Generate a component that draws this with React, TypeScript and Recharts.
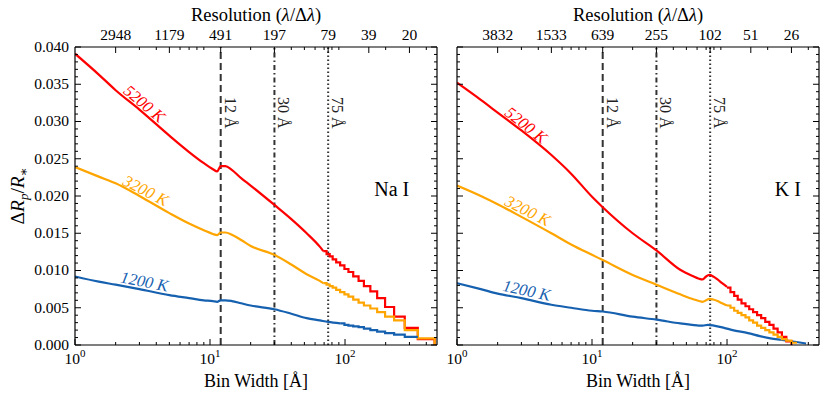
import React from "react";
import {
  ComposedChart,
  Line,
  XAxis,
  YAxis,
  ReferenceLine,
  ReferenceDot,
} from "recharts";

type Pt = [number, number];

const FONT = "Liberation Serif, DejaVu Serif, serif";
const INK = "#000";
const RED = "#ff0000";
const ORANGE = "#ffa500";
const BLUE = "#1660b0";

// top axis: bin widths (Å) that carry the resolution labels
const resolutionBins = [2, 5, 12, 30, 75, 150, 300];
const naResolution = ["2948", "1179", "491", "197", "79", "39", "20"];
const kResolution = ["3832", "1533", "639", "255", "102", "51", "26"];

// bottom axis
const decades = [1, 10, 100];
const logMinors = [2, 3, 4, 5, 6, 7, 8, 9, 20, 30, 40, 50, 60, 70, 80, 90, 200, 300, 400];

// y axis
const radiusMajors = [0, 0.005, 0.01, 0.015, 0.02, 0.025, 0.03, 0.035, 0.04];

// vertical bin-width markers
const markerBins = [12, 30, 75];
const markerText = ["12 Å", "30 Å", "75 Å"];

// ---- Na I ----
const na5200: Pt[] = [
  [1, 0.0391], [1.5, 0.0363], [2, 0.0342], [3, 0.0316], [5, 0.0281], [7, 0.0259],
  [9, 0.0244], [10.5, 0.0236], [11.3, 0.0233], [12, 0.024], [13, 0.024],
  [14.5, 0.0235], [17, 0.0224], [20, 0.0214], [30, 0.0188], [40, 0.0169],
  [52, 0.015], [65, 0.0132], [69, 0.0126],
];
const na5200Steps: Pt[] = [
  [69, 0.0126], [73, 0.0122], [77, 0.0119], [81, 0.0115], [86, 0.0111], [92, 0.0107],
  [99, 0.0102], [106, 0.0098], [115, 0.0092], [126, 0.0086], [138, 0.0079],
  [154, 0.0072], [173, 0.0063], [198, 0.0051], [231, 0.0038], [277, 0.0023],
  [346, 0.0008], [461, 0],
];
const na3200: Pt[] = [
  [1, 0.0239], [1.5, 0.0226], [2, 0.0217], [3, 0.02], [5, 0.0177], [7, 0.0163],
  [9, 0.0154], [10.5, 0.0149], [11.3, 0.01475], [12, 0.0151], [13, 0.0151],
  [14.5, 0.0148], [17, 0.0141], [20, 0.0133], [30, 0.0121], [40, 0.0108],
  [52, 0.0095], [65, 0.0086], [69, 0.0083],
];
const na3200Steps: Pt[] = [
  [69, 0.0083], [73, 0.0081], [77, 0.0079], [81, 0.0077], [86, 0.0074], [92, 0.0071],
  [99, 0.0068], [106, 0.0065], [115, 0.0061], [126, 0.0057], [138, 0.0053],
  [154, 0.0049], [173, 0.0044], [198, 0.0038], [231, 0.0033], [277, 0.002],
  [346, 0.0009], [461, 0],
];
const na1200: Pt[] = [
  [1, 0.0092], [1.5, 0.0085], [2, 0.0081], [3, 0.0075], [5, 0.0067], [7, 0.0063],
  [9, 0.006], [10.5, 0.0059], [11.3, 0.0058], [12, 0.006], [13, 0.006],
  [14.5, 0.0059], [17, 0.0056], [20, 0.0053], [30, 0.0048], [40, 0.0042],
  [52, 0.0036], [65, 0.0033], [75, 0.0031], [92, 0.0029],
];
const na1200Steps: Pt[] = [
  [92, 0.0029], [99, 0.0027], [106, 0.0026], [115, 0.0025], [126, 0.0024],
  [138, 0.0022], [154, 0.002], [173, 0.0018], [198, 0.0016], [231, 0.0014],
  [277, 0.0011], [346, 0.0011],
];

// ---- K I ----
const k5200: Pt[] = [
  [1, 0.0352], [1.5, 0.0329], [2, 0.0312], [3, 0.0288], [5, 0.0255], [7, 0.023],
  [10, 0.0199], [12, 0.0185], [20, 0.015], [30, 0.0127], [45, 0.0101], [55, 0.0093],
  [62, 0.0089], [66, 0.0088], [70, 0.0092], [74, 0.0094], [79, 0.0092], [85, 0.0088],
  [92, 0.0083], [100, 0.0078],
];
const k5200Steps: Pt[] = [
  [100, 0.0077], [106, 0.0071], [113, 0.0066], [120, 0.0061], [128, 0.0056],
  [137, 0.0052], [146, 0.0048], [156, 0.0044], [167, 0.004], [179, 0.0036],
  [192, 0.0031], [206, 0.0027], [221, 0.0022], [237, 0.0017], [255, 0.0011],
  [275, 0.0005], [300, 0],
];
const k3200: Pt[] = [
  [1, 0.0214], [1.5, 0.02], [2, 0.0189], [3, 0.0172], [5, 0.015], [7, 0.0135],
  [10, 0.0121], [12, 0.0114], [20, 0.0094], [30, 0.0081], [45, 0.0068], [55, 0.0062],
  [62, 0.0059], [66, 0.0058], [70, 0.006], [74, 0.0062], [79, 0.0061], [85, 0.0059],
  [92, 0.0056], [100, 0.0053],
];
const k3200Steps: Pt[] = [
  [100, 0.0053], [106, 0.005], [113, 0.0046], [120, 0.0043], [128, 0.004],
  [137, 0.0037], [146, 0.0033], [156, 0.003], [167, 0.0026], [179, 0.0023],
  [192, 0.002], [206, 0.0017], [221, 0.0014], [237, 0.0011], [255, 0.0008],
  [275, 0.0006], [300, 0.0003], [330, 0.0003],
];
const k1200: Pt[] = [
  [1, 0.0083], [1.5, 0.0075], [2, 0.0069], [3, 0.0063], [5, 0.0054], [7, 0.005],
  [10, 0.0046], [12, 0.0045], [20, 0.0038], [30, 0.0034], [45, 0.0029], [55, 0.0027],
  [62, 0.0026], [66, 0.0026], [72, 0.0027], [80, 0.0026], [95, 0.0023], [110, 0.002],
  [143, 0.0016], [175, 0.0012], [210, 0.0009], [250, 0.0007], [300, 0.0005],
  [385, 0.0002],
];
const k1200Steps: Pt[] = [];

const X_DOMAIN: [number, number] = [1, 480];
const Y_DOMAIN: [number, number] = [0, 0.04];
const bottomTicks = [...decades, ...logMinors].sort((a, b) => a - b);
const topTicks = [...resolutionBins, ...logMinors.filter((v) => !resolutionBins.includes(v))].sort(
  (a, b) => a - b
);
const radiusTicks = Array.from({ length: 41 }, (_, i) => i / 1000);
const isMajorR = (v: number) => radiusMajors.some((m) => Math.abs(m - v) < 1e-9);

const frame = { stroke: INK, strokeWidth: 1.2 };
const rows = (pts: Pt[]) => pts.map(([x, y]) => ({ x, y }));

const BottomTick = (props: any) => {
  const { x, y, payload } = props;
  const v = payload.value;
  const major = decades.includes(v);
  return (
    <g>
      <line x1={x} x2={x} y1={y} y2={y - (major ? 6 : 3)} stroke={INK} strokeWidth={1} />
      {major && (
        <text x={x} y={y + 18.5} textAnchor="middle" style={{ fontFamily: FONT }} fontSize={15.5} fill={INK}>
          10
          <tspan dy={-7} fontSize={11}>
            {Math.round(Math.log10(v))}
          </tspan>
        </text>
      )}
    </g>
  );
};

const makeTopTick = (labels: string[]) => (props: any) => {
  const { x, y, payload } = props;
  const i = resolutionBins.indexOf(payload.value);
  const major = i >= 0;
  return (
    <g>
      <line x1={x} x2={x} y1={y} y2={y + (major ? 6 : 3)} stroke={INK} strokeWidth={1} />
      {major && (
        <text x={x} y={y - 7} textAnchor="middle" style={{ fontFamily: FONT }} fontSize={15.5} fill={INK}>
          {labels[i]}
        </text>
      )}
    </g>
  );
};

const makeLeftTick = (showLabels: boolean) => (props: any) => {
  const { x, y, payload } = props;
  const v = payload.value;
  const major = isMajorR(v);
  return (
    <g>
      <line x1={x} x2={x + (major ? 6 : 3)} y1={y} y2={y} stroke={INK} strokeWidth={1} />
      {showLabels && major && (
        <text
          x={x - 6}
          y={y}
          dy="0.32em"
          textAnchor="end"
          style={{ fontFamily: FONT }}
          fontSize={15.5}
          fill={INK}
        >
          {v.toFixed(3)}
        </text>
      )}
    </g>
  );
};

const RightTick = (props: any) => {
  const { x, y, payload } = props;
  const major = isMajorR(payload.value);
  return <line x1={x} x2={x - (major ? 6 : 3)} y1={y} y2={y} stroke={INK} strokeWidth={1} />;
};

const markerDash = ["7 4", "5 3 1.5 3", "1.5 2.5"];

const markerLabel = (text: string) => (props: any) => {
  const vb = props.viewBox || {};
  return (
    <text
      transform={`translate(${vb.x + 4},${vb.y + 50}) rotate(90)`}
      style={{ fontFamily: FONT }}
      fontSize={16}
      fill="#222"
    >
      {text}
    </text>
  );
};

// label sits just above its curve: shifted perpendicular in the rotated frame
const curveLabel = (text: string, color: string, angle: number) => (props: any) => {
  const vb = props.viewBox || {};
  return (
    <text
      x={vb.x}
      y={vb.y - 8}
      dy="0.35em"
      textAnchor="middle"
      transform={`rotate(${angle} ${vb.x} ${vb.y})`}
      style={{ fontFamily: FONT }}
      fontStyle="italic"
      fontSize={16.5}
      fill={color}
    >
      {text}
    </text>
  );
};

const elementLabel = (text: string) => (props: any) => {
  const vb = props.viewBox || {};
  return (
    <text x={vb.x} y={vb.y} textAnchor="middle" style={{ fontFamily: FONT }} fontSize={20} fill={INK}>
      {text}
    </text>
  );
};

type Series = { name: string; color: string; smooth: Pt[]; steps: Pt[]; at: [number, number, number] };

type PanelProps = {
  width: number;
  leftW: number;
  rightW: number;
  resolution: string[];
  showY: boolean;
  element: string;
  elementAt: [number, number];
  series: Series[];
};

function Panel({ width, leftW, rightW, resolution, showY, element, elementAt, series }: PanelProps) {
  return (
    <ComposedChart width={width} height={399} margin={{ top: 0, right: 0, bottom: 0, left: 0 }}>
      <XAxis
        xAxisId="bin"
        dataKey="x"
        type="number"
        scale="log"
        domain={X_DOMAIN}
        allowDataOverflow
        ticks={bottomTicks}
        interval={0}
        tickLine={false}
        tickSize={0}
        tickMargin={0}
        height={54}
        axisLine={frame}
        tick={BottomTick}
      />
      <XAxis
        xAxisId="res"
        orientation="top"
        dataKey="x"
        type="number"
        scale="log"
        domain={X_DOMAIN}
        allowDataOverflow
        ticks={topTicks}
        interval={0}
        tickLine={false}
        tickSize={0}
        tickMargin={0}
        height={47}
        axisLine={frame}
        tick={makeTopTick(resolution)}
      />
      <YAxis
        yAxisId="r"
        type="number"
        domain={Y_DOMAIN}
        allowDataOverflow
        ticks={radiusTicks}
        interval={0}
        tickLine={false}
        tickSize={0}
        tickMargin={0}
        width={leftW}
        axisLine={frame}
        tick={makeLeftTick(showY)}
      />
      <YAxis
        yAxisId="rr"
        orientation="right"
        type="number"
        domain={Y_DOMAIN}
        allowDataOverflow
        ticks={radiusTicks}
        interval={0}
        tickLine={false}
        tickSize={0}
        tickMargin={0}
        width={rightW}
        axisLine={frame}
        tick={RightTick}
      />
      {markerBins.map((b, i) => (
        <ReferenceLine
          key={`m${b}`}
          xAxisId="bin"
          yAxisId="r"
          x={b}
          stroke="#333"
          strokeWidth={2}
          strokeDasharray={markerDash[i]}
          label={markerLabel(markerText[i])}
        />
      ))}
      {series.map((s) => (
        <Line
          key={`${s.name}-smooth`}
          xAxisId="bin"
          yAxisId="r"
          data={rows(s.smooth)}
          dataKey="y"
          type="monotone"
          stroke={s.color}
          strokeWidth={2.2}
          dot={false}
          activeDot={false}
          isAnimationActive={false}
        />
      ))}
      {series
        .filter((s) => s.steps.length > 0)
        .map((s) => (
          <Line
            key={`${s.name}-steps`}
            xAxisId="bin"
            yAxisId="r"
            data={rows(s.steps)}
            dataKey="y"
            type="stepAfter"
            stroke={s.color}
            strokeWidth={2.2}
            dot={false}
            activeDot={false}
            isAnimationActive={false}
          />
        ))}
      {series.map((s) => (
        <ReferenceDot
          key={`${s.name}-label`}
          xAxisId="bin"
          yAxisId="r"
          x={s.at[0]}
          y={s.at[1]}
          r={0}
          fill="none"
          stroke="none"
          label={curveLabel(s.name, s.color, s.at[2])}
        />
      ))}
      <ReferenceDot
        xAxisId="bin"
        yAxisId="r"
        x={elementAt[0]}
        y={elementAt[1]}
        r={0}
        fill="none"
        stroke="none"
        label={elementLabel(element)}
      />
    </ComposedChart>
  );
}

const naSeries: Series[] = [
  { name: "5200 K", color: RED, smooth: na5200, steps: na5200Steps, at: [3.0, 0.0316, 40] },
  { name: "3200 K", color: ORANGE, smooth: na3200, steps: na3200Steps, at: [3.15, 0.0198, 27] },
  { name: "1200 K", color: BLUE, smooth: na1200, steps: na1200Steps, at: [3.19, 0.0075, 11] },
];
const kSeries: Series[] = [
  { name: "5200 K", color: RED, smooth: k5200, steps: k5200Steps, at: [3.0, 0.0287, 38] },
  { name: "3200 K", color: ORANGE, smooth: k3200, steps: k3200Steps, at: [3.15, 0.0171, 27] },
  { name: "1200 K", color: BLUE, smooth: k1200, steps: k1200Steps, at: [3.19, 0.0063, 12] },
];

export default function App() {
  return (
    <div
      style={{
        position: "absolute",
        left: 0,
        top: 0,
        width: 830,
        height: 399,
        background: "#fff",
        fontFamily: FONT,
      }}
    >
      <div style={{ position: "absolute", left: 0, top: 0 }}>
        <Panel
          width={440}
          leftW={75}
          rightW={3}
          resolution={naResolution}
          showY
          element="Na I"
          elementAt={[222, 0.02]}
          series={naSeries}
        />
      </div>
      <div style={{ position: "absolute", left: 440, top: 0 }}>
        <Panel
          width={390}
          leftW={17}
          rightW={11}
          resolution={kResolution}
          showY={false}
          element="K I"
          elementAt={[282, 0.02]}
          series={kSeries}
        />
      </div>
      <svg
        width={830}
        height={399}
        style={{ position: "absolute", left: 0, top: 0, pointerEvents: "none", fontFamily: FONT }}
        fill={INK}
      >
        {[256, 638].map((cx) => (
          <g key={cx}>
            <text x={cx} y={21} textAnchor="middle" fontSize={18.5}>
              Resolution (<tspan fontStyle="italic">λ</tspan>/Δ<tspan fontStyle="italic">λ</tspan>)
            </text>
            <text x={cx} y={387} textAnchor="middle" fontSize={18}>
              Bin Width [Å]
            </text>
          </g>
        ))}
        <text transform="translate(24,196) rotate(-90)" textAnchor="middle" fontSize={19.5}>
          Δ<tspan fontStyle="italic">R</tspan>
          <tspan fontSize={13} dy={4} fontStyle="italic">p</tspan>
          <tspan dy={-4}>/</tspan>
          <tspan fontStyle="italic">R</tspan>
          <tspan fontSize={13} dy={4}>∗</tspan>
        </text>
      </svg>
    </div>
  );
}
